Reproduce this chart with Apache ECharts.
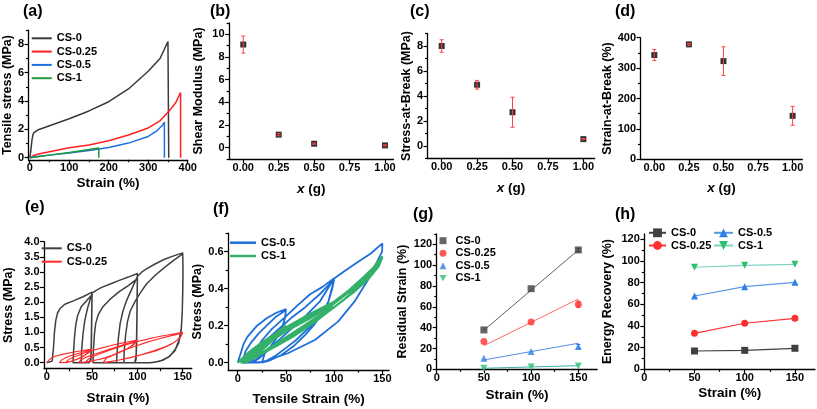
<!DOCTYPE html>
<html><head><meta charset="utf-8">
<script src="https://cdn.jsdelivr.net/npm/echarts@6/dist/echarts.min.js"></script>
<style>html,body{margin:0;padding:0;background:#fff}#c{width:817px;height:409px}</style>
</head><body><div id="c"></div><script>
// ---------- DATA ----------
// (a) tensile curves [strain %, stress MPa]
const tensileCS0 = [[0,0],[2,0.3],[4,0.8],[6,1.3],[8,1.6],[10,1.75],[14,1.88],[20,1.95],[50,2.25],[100,2.75],[150,3.3],[200,3.95],[250,4.85],[300,6.1],[330,7.0],[350,8.2],[352,0]];
const tensileCS025 = [[0,0],[10,0.15],[25,0.28],[50,0.42],[100,0.7],[150,0.9],[200,1.2],[250,1.6],[300,2.1],[330,2.6],[355,3.36],[370,3.9],[382,4.6],[382,0]];
const tensileCS05 = [[0,0],[25,0.1],[50,0.18],[100,0.33],[150,0.5],[200,0.72],[250,1.03],[300,1.5],[320,1.85],[335,2.25],[341,2.5],[341,0]];
const tensileCS1 = [[0,0],[25,0.09],[50,0.18],[100,0.36],[150,0.57],[175,0.68],[175,0]];
// (b)(c)(d)
const xContent = [0, 0.25, 0.5, 1.0];
const shearMod = [9.1, 1.15, 0.35, 0.2];
const shearErr = [0.75, 0.1, 0.05, 0.05];
const stressBreak = [8.0, 4.9, 2.7, 0.55];
const stressErr = [0.5, 0.35, 1.2, 0.05];
const strainBreak = [343, 378, 323, 143];
const strainErr = [18, 3, 47, 31];
// (e) cyclic CS-0 and CS-0.25
const cycCS0 = [[0,0],[6,0.05],[7.5,0.5],[8.5,1.0],[10,1.4],[12,1.65],[15,1.8],[20,1.93],[30,2.05],[40,2.18],[50,2.33],
 [49.7,1.8],[49.4,1.2],[49.1,0.6],[48.6,0.15],[47,0],[29,0],
 [29.5,0.3],[30.5,0.8],[32,1.25],[34,1.55],[38,1.85],[44,2.05],[50,2.25],
 [49.7,1.5],[49.3,0.6],[48.7,0.1],[47,0],[38,0],
 [38.5,0.4],[40,0.95],[42,1.4],[45,1.8],[50,2.3],[55,2.4],[60,2.48],[70,2.6],[80,2.72],[90,2.83],[100,2.95],
 [99.7,2.2],[99.4,1.4],[99,0.7],[98.5,0.2],[97,0],[51,0],
 [51.5,0.4],[52.5,0.9],[54,1.3],[57,1.6],[62,1.85],[70,2.1],[80,2.35],[90,2.55],[100,2.78],
 [99.6,1.6],[99.2,0.7],[98.5,0.1],[97,0],[77,0],
 [77.5,0.3],[79,0.8],[81,1.3],[84,1.7],[88,2.05],[94,2.45],[100,2.85],[105,3.0],[110,3.1],[120,3.27],[130,3.42],[140,3.53],[150,3.63],
 [150.3,3.1],[150,2.4],[149.5,1.7],[148.5,1.15],[146,0.75],[142,0.45],[136,0.22],[128,0.08],[119,0.01],[114,0],[85,0],
 [85.5,0.4],[87,0.9],[89,1.35],[92,1.7],[97,2.0],[103,2.3],[110,2.6],[120,2.9],[130,3.15],[140,3.38],[150,3.6],
 [150.3,3.0],[150,2.3],[149.4,1.6],[148.2,1.05],[145.5,0.65],[141,0.38],[134,0.18],[125,0.05],[114,0]];
const cycCS025 = [[0,0],[3,0.1],[6,0.17],[10,0.22],[20,0.29],[30,0.35],[40,0.4],[50,0.45],
 [47,0.36],[43,0.27],[38,0.18],[32,0.1],[26,0.04],[20,0.01],[14,0],
 [16,0.08],[20,0.15],[25,0.21],[30,0.26],[40,0.35],[50,0.43],
 [47,0.34],[42,0.24],[36,0.14],[30,0.07],[25,0.02],[21,0],
 [24,0.1],[30,0.19],[40,0.3],[50,0.4],[60,0.48],[70,0.56],[80,0.63],[90,0.69],[100,0.75],
 [97,0.65],[92,0.52],[85,0.4],[78,0.3],[70,0.2],[60,0.12],[50,0.06],[42,0.02],[35,0],
 [38,0.1],[45,0.2],[55,0.3],[65,0.4],[75,0.5],[85,0.6],[100,0.72],
 [96,0.6],[90,0.47],[82,0.36],[74,0.26],[65,0.17],[55,0.09],[47,0.03],[42,0],
 [46,0.12],[55,0.25],[70,0.42],[85,0.57],[100,0.7],[110,0.77],[120,0.84],[130,0.9],[140,0.95],[150,1.0],
 [148,0.88],[144,0.75],[138,0.62],[130,0.5],[120,0.39],[110,0.3],[100,0.22],[90,0.15],[80,0.09],[70,0.04],[62,0],
 [66,0.15],[80,0.35],[95,0.52],[110,0.67],[125,0.8],[140,0.91],[150,0.98],
 [147,0.82],[140,0.66],[130,0.52],[118,0.39],[105,0.27],[92,0.17],[80,0.09],[70,0.03],[63,0]];
// (f) cyclic CS-0.5 and CS-1
const cycCS05 = [[0,0],[3,0.05],[6,0.1],[10,0.14],[20,0.2],[30,0.24],[40,0.27],[50,0.29],
 [49.5,0.26],[48,0.22],[45,0.18],[40,0.13],[33,0.08],[25,0.04],[17,0.01],[12,0],[5,0],
 [8,0.06],[14,0.11],[22,0.16],[30,0.2],[40,0.25],[50,0.285],
 [49,0.24],[46,0.19],[41,0.14],[35,0.09],[28,0.05],[21,0.02],[15,0],
 [18,0.06],[25,0.12],[35,0.18],[50,0.25],[62,0.31],[75,0.37],[88,0.41],[100,0.456],
 [98.5,0.42],[96,0.37],[93,0.31],[88,0.27],[80,0.22],[70,0.17],[60,0.12],[50,0.08],[40,0.04],[30,0.01],[22,0],[12,0],
 [16,0.05],[25,0.1],[40,0.17],[55,0.24],[70,0.3],[85,0.37],[100,0.45],
 [98,0.4],[94,0.33],[88,0.27],[80,0.21],[70,0.15],[58,0.09],[45,0.04],[32,0.01],[25,0],
 [28,0.05],[40,0.11],[55,0.18],[70,0.25],[85,0.33],[100,0.455],[112,0.5],[125,0.546],[138,0.59],[150,0.645],
 [149.8,0.6],[145.5,0.555],[135,0.447],[121,0.33],[104,0.222],[80,0.123],[52,0.051],[35,0.02],[26,0.005],[24,0],[10,0]];
const cycCS1 = [[0,0],[10,0.05],[25,0.11],[40,0.16],[50,0.2],[48,0.18],[40,0.14],[30,0.09],[20,0.05],[10,0.02],[3,0],
 [12,0.05],[25,0.1],[40,0.155],[50,0.195],[47,0.17],[38,0.13],[28,0.085],[18,0.045],[8,0.01],[4,0],
 [15,0.06],[30,0.12],[50,0.19],[70,0.25],[85,0.29],[100,0.33],[97,0.3],[90,0.27],[75,0.22],[60,0.17],[45,0.12],[30,0.07],[15,0.025],[5,0],
 [20,0.07],[40,0.14],[60,0.2],[80,0.26],[100,0.325],[95,0.29],[80,0.24],[60,0.17],[40,0.1],[20,0.04],[6,0],
 [25,0.09],[50,0.18],[75,0.25],[100,0.33],[115,0.39],[130,0.46],[140,0.51],[150,0.575],[147,0.54],[140,0.49],[125,0.41],[110,0.34],[95,0.28],[75,0.21],[55,0.14],[35,0.08],[18,0.03],[7,0],
 [25,0.085],[50,0.17],[75,0.24],[100,0.32],[120,0.4],[135,0.48],[150,0.57],[146,0.52],[135,0.45],[120,0.38],[100,0.3],[80,0.22],[60,0.15],[40,0.09],[20,0.035],[8,0]];
// (g) residual strain
const strainLevels = [50, 100, 150];
const residual0 = [37.8, 77.4, 114.6];
const residual025 = [26.6, 45.4, 62.4];
const residual05 = [10.6, 17.0, 21.8];
const residual1 = [1.0, 2.2, 3.2];
const residualErr0 = [0, 0, 1.5];
const residualErr025 = [0, 0, 3];
const residualErr05 = [0, 0, 2];
const fitX = [50, 150];
const fit0 = [37.5, 114.5];
const fit025 = [22.7, 67.5];
const fit05 = [9.0, 25.0];
const fit1 = [1.0, 3.5];
// (h) energy recovery
const energy0 = [16.9, 17.5, 19.4];
const energy025 = [33.2, 42.5, 47.1];
const energy05 = [67.7, 76.3, 80.3];
const energy1 = [94.2, 96.0, 96.9];
const energyErr0 = [0, 0, 2];
// tick values
const ticksA_x = [0,100,200,300,400], ticksA_xm = [50,150,250,350];
const ticksA_y = [0,2,4,6,8], ticksA_ym = [1,3,5,7,9];
const ticksX_g = [0,0.25,0.5,0.75,1.0];
const ticksB_y = [0,2,4,6,8,10], ticksB_ym = [-1,1,3,5,7,9,11];
const ticksC_y = [0,2,4,6,8], ticksC_ym = [-1,1,3,5,7,9];
const ticksD_y = [0,100,200,300,400], ticksD_ym = [50,150,250,350];
const ticksE_x = [0,50,100,150], ticksE_xm = [25,75,125];
const ticksE_y = [0,0.5,1,1.5,2,2.5,3,3.5,4];
const ticksF_y = [0,0.2,0.4,0.6], ticksF_ym = [0.1,0.3,0.5,0.7];
const ticksG_y = [0,20,40,60,80,100,120], ticksG_ym = [10,30,50,70,90,110,130];
const ticksH_ym = [10,30,50,70,90,110];

// ---------- BUILD ----------
const FONT = '"Liberation Sans", Arial, sans-serif';
const grids = [], xAxis = [], yAxis = [], series = [], legend = [], graphic = [];
const nameStyle = (fs) => ({color:'#000', fontWeight:'bold', fontSize:fs, fontFamily:FONT,
  rich:{i:{fontStyle:'italic', fontWeight:'bold', fontSize:fs, fontFamily:FONT, color:'#000'}}});
function addPanel(p) {
  const gi = grids.length;
  grids.push({left:p.left, top:p.top, width:p.width, height:p.height});
  const lineSt = {color:'#000', width:1.3};
  const tickSt = {color:'#000', width:1.2};
  const lab = {color:'#000', fontWeight:'bold', fontSize:11, fontFamily:FONT};
  xAxis.push({type:'value', gridIndex:gi, min:p.x[0], max:p.x[1], position:'bottom',
    axisLine:{show:true, onZero:false, lineStyle:lineSt},
    axisTick:{show:true, length:4, customValues:p.xMajor, lineStyle:tickSt},
    axisLabel:Object.assign({customValues:p.xMajor, formatter:p.xFmt, margin:3}, lab),
    splitLine:{show:false}, name:p.xName, nameLocation:'middle', nameGap:p.xGap, nameTextStyle:nameStyle(13.5)});
  xAxis.push({type:'value', gridIndex:gi, min:p.x[0], max:p.x[1], position:'bottom',
    axisLine:{show:false, onZero:false}, axisLabel:{show:false}, splitLine:{show:false},
    axisTick:{show:p.xMinor.length>0, length:2.5, customValues:p.xMinor.length?p.xMinor:[p.x[0]], lineStyle:tickSt}});
  yAxis.push({type:'value', gridIndex:gi, min:p.y[0], max:p.y[1], position:'left',
    axisLine:{show:true, onZero:false, lineStyle:lineSt},
    axisTick:{show:true, length:4, customValues:p.yMajor, lineStyle:tickSt},
    axisLabel:Object.assign({customValues:p.yMajor, formatter:p.yFmt, margin:4.5}, lab),
    splitLine:{show:false}, name:p.yName, nameLocation:'middle', nameGap:p.yGap, nameTextStyle:nameStyle(12.5)});
  yAxis.push({type:'value', gridIndex:gi, min:p.y[0], max:p.y[1], position:'left',
    axisLine:{show:false, onZero:false}, axisLabel:{show:false}, splitLine:{show:false},
    axisTick:{show:p.yMinor.length>0, length:2.5, customValues:p.yMinor.length?p.yMinor:[p.y[0]], lineStyle:tickSt}});
  return 2*gi;
}
const intF = v => String(Math.round(v));
const f1 = v => v.toFixed(1);
const f2 = v => v.toFixed(2);
function errSeries(ai, xs, ys, es, color, cap) {
  const d = [];
  xs.forEach((x,i)=>{ if (es[i] > 0) d.push([x, ys[i]-es[i], ys[i]+es[i]]); });
  return {type:'custom', xAxisIndex:ai, yAxisIndex:ai, z:5, silent:true, data:d, encode:{x:0, y:[1,2]},
    renderItem:(params, api)=>{
      const x = api.value(0);
      const lo = api.coord([x, api.value(1)]), hi = api.coord([x, api.value(2)]);
      const st = {stroke:color, lineWidth:1};
      return {type:'group', children:[
        {type:'line', shape:{x1:lo[0],y1:lo[1],x2:hi[0],y2:hi[1]}, style:st},
        {type:'line', shape:{x1:lo[0]-cap,y1:lo[1],x2:lo[0]+cap,y2:lo[1]}, style:st},
        {type:'line', shape:{x1:hi[0]-cap,y1:hi[1],x2:hi[0]+cap,y2:hi[1]}, style:st}]};
    }};
}
const lineS = (name, ai, data, color, w) => ({name, type:'line', xAxisIndex:ai, yAxisIndex:ai, data, symbol:'none',
  lineStyle:{color, width:w}, itemStyle:{color}, z:2});
const legText = {color:'#000', fontWeight:'bold', fontSize:11, fontFamily:FONT, lineHeight:12};
const legFmt = n => n.split('|')[1];

// (a)
let ai = addPanel({left:28.1, top:30.2, width:159.6, height:129.6, x:[-3,400], y:[-0.15,9],
  xMajor:ticksA_x, xMinor:ticksA_xm, yMajor:ticksA_y, yMinor:ticksA_ym, xFmt:intF, yFmt:intF,
  xName:'Strain (%)', xGap:16, yName:'Tensile stress (MPa)', yGap:13});
series.push(lineS('a|CS-0', ai, tensileCS0, '#3a3a3a', 1.5));
series.push(lineS('a|CS-0.25', ai, tensileCS025, '#ff2020', 1.5));
series.push(lineS('a|CS-0.5', ai, tensileCS05, '#1f6fe0', 1.5));
series.push(lineS('a|CS-1', ai, tensileCS1, '#1f9a3a', 1.5));
legend.push({data:['a|CS-0','a|CS-0.25','a|CS-0.5','a|CS-1'], left:31.7, top:32.3, orient:'vertical', padding:0,
  icon:'rect', itemWidth:20, itemHeight:2, itemGap:1.3, textStyle:legText, formatter:legFmt, selectedMode:false});

// (b)
ai = addPanel({left:229.1, top:23, width:164.4, height:136, x:[-0.1,1.06], y:[-1,11],
  xMajor:ticksX_g, xMinor:[], yMajor:ticksB_y, yMinor:ticksB_ym, xFmt:f2, yFmt:intF,
  xName:'{i|x} (g)', xGap:23, yName:'Shear Modulus (MPa)', yGap:24});
series.push({type:'scatter', xAxisIndex:ai, yAxisIndex:ai, symbol:'rect', symbolSize:6, itemStyle:{color:'#000'},
  data:xContent.map((x,i)=>[x, shearMod[i]]), z:2});
series.push(errSeries(ai, xContent, shearMod, shearErr, '#ff4040', 2));

// (c)
ai = addPanel({left:427.5, top:33.5, width:167.2, height:125, x:[-0.1,1.08], y:[-1,9],
  xMajor:ticksX_g, xMinor:[], yMajor:ticksC_y, yMinor:ticksC_ym, xFmt:f2, yFmt:intF,
  xName:'{i|x} (g)', xGap:22.5, yName:'Stress-at-Break (MPa)', yGap:13.5});
series.push({type:'scatter', xAxisIndex:ai, yAxisIndex:ai, symbol:'rect', symbolSize:6, itemStyle:{color:'#000'},
  data:xContent.map((x,i)=>[x, stressBreak[i]]), z:2});
series.push(errSeries(ai, xContent, stressBreak, stressErr, '#ff4040', 2));

// (d)
ai = addPanel({left:640.5, top:37.7, width:161.8, height:121.6, x:[-0.1,1.07], y:[0,400],
  xMajor:ticksX_g, xMinor:[], yMajor:ticksD_y, yMinor:ticksD_ym, xFmt:f2, yFmt:intF,
  xName:'{i|x} (g)', xGap:22, yName:'Strain-at-Break (%)', yGap:24});
series.push({type:'scatter', xAxisIndex:ai, yAxisIndex:ai, symbol:'rect', symbolSize:6, itemStyle:{color:'#000'},
  data:xContent.map((x,i)=>[x, strainBreak[i]]), z:2});
series.push(errSeries(ai, xContent, strainBreak, strainErr, '#ff4040', 2));

// (e)
ai = addPanel({left:44, top:241.7, width:147.8, height:127, x:[-3,160], y:[-0.2,4],
  xMajor:ticksE_x, xMinor:ticksE_xm, yMajor:ticksE_y, yMinor:[], xFmt:intF, yFmt:f1,
  xName:'Strain (%)', xGap:23, yName:'Stress (MPa)', yGap:28.5});
series.push(lineS('e|CS-0', ai, cycCS0, '#404040', 1.5));
series.push(lineS('e|CS-0.25', ai, cycCS025, '#ff2a2a', 1.1));
legend.push({data:['e|CS-0','e|CS-0.25'], left:41.7, top:242.3, orient:'vertical', padding:0,
  icon:'rect', itemWidth:20, itemHeight:2, itemGap:1.4, textStyle:legText, formatter:legFmt, selectedMode:false});

// (f)
ai = addPanel({left:228.1, top:233.2, width:161, height:136.9, x:[-10,157], y:[-0.04,0.7],
  xMajor:ticksE_x, xMinor:ticksE_xm, yMajor:ticksF_y, yMinor:ticksF_ym, xFmt:intF, yFmt:f1,
  xName:'Tensile Strain (%)', xGap:22.5, yName:'Stress (MPa)', yGap:22});
series.push(lineS('f|CS-0.5', ai, cycCS05, '#1f6fd8', 1.8));
series.push(lineS('f|CS-1', ai, cycCS1, '#33b06a', 2.2));
legend.push({data:['f|CS-0.5','f|CS-1'], left:230, top:236.7, orient:'vertical', padding:0,
  icon:'rect', itemWidth:26, itemHeight:2.5, itemGap:1.3, textStyle:legText, formatter:legFmt, selectedMode:false});

// (g)
const invTri = 'path://M0,0 L10,0 L5,9 Z';
ai = addPanel({left:436.7, top:233.9, width:160.5, height:135.4, x:[0,170], y:[0,130],
  xMajor:ticksE_x, xMinor:ticksE_xm, yMajor:ticksG_y, yMinor:ticksG_ym, xFmt:intF, yFmt:intF,
  xName:'Strain (%)', xGap:18.5, yName:'Residual Strain (%)', yGap:27.5});
const gDefs = [['CS-0', residual0, fit0, 'rect', '#404040', '#606060', residualErr0],
  ['CS-0.25', residual025, fit025, 'circle', '#ff3030', '#ff6a6a', residualErr025],
  ['CS-0.5', residual05, fit05, 'triangle', '#2f7fe8', '#4f8fe0', residualErr05],
  ['CS-1', residual1, fit1, invTri, '#2cc070', '#3fb0a0', [0,0,0]]];
gDefs.forEach(d=>{
  series.push({name:'g|'+d[0], type:'line', xAxisIndex:ai, yAxisIndex:ai, data:fitX.map((x,i)=>[x, d[2][i]]),
    symbol:'none', lineStyle:{color:d[5], width:1}, itemStyle:{color:d[5]}, z:1});
});
gDefs.forEach(d=>{
  series.push({name:'gs|'+d[0], type:'scatter', xAxisIndex:ai, yAxisIndex:ai, symbol:d[3], symbolSize:7,
    itemStyle:{color:d[4]}, data:strainLevels.map((x,i)=>[x, d[1][i]]), z:3});
  series.push(errSeries(ai, strainLevels, d[1], d[6], d[4], 2));
});
legend.push({data:gDefs.map(d=>'gs|'+d[0]), left:439.5, top:234.7, orient:'vertical', padding:0,
  itemWidth:7, itemHeight:7, itemGap:0.5, textStyle:Object.assign({padding:[0,0,0,4]}, legText), formatter:legFmt, selectedMode:false});

// (h)
ai = addPanel({left:644.3, top:233.9, width:170.7, height:135.4, x:[0,170], y:[0,125],
  xMajor:ticksE_x, xMinor:ticksE_xm, yMajor:ticksG_y, yMinor:ticksH_ym, xFmt:intF, yFmt:intF,
  xName:'Strain (%)', xGap:16.7, yName:'Energy Recovery (%)', yGap:30});
const hDefs = [['CS-0', energy0, 'rect', '#404040', '#404040', energyErr0],
  ['CS-0.25', energy025, 'circle', '#ff3030', '#ff3030', [0,0,0]],
  ['CS-0.5', energy05, 'triangle', '#2f7fe8', '#5a96e6', [0,0,0]],
  ['CS-1', energy1, invTri, '#2cc070', '#7fd3c3', [0,0,0]]];
hDefs.forEach(d=>{
  series.push({name:'h|'+d[0], type:'line', xAxisIndex:ai, yAxisIndex:ai, symbol:d[2], symbolSize:7,
    itemStyle:{color:d[3]}, lineStyle:{color:d[4], width:1.2}, data:strainLevels.map((x,i)=>[x, d[1][i]]), z:3});
  series.push(errSeries(ai, strainLevels, d[1], d[5], d[3], 2));
});
legend.push({data:['h|CS-0','h|CS-0.25'], left:648, top:226.8, orient:'vertical', padding:0,
  itemWidth:17, itemHeight:11, itemGap:0.7, textStyle:legText, formatter:legFmt, selectedMode:false});
legend.push({data:['h|CS-0.5','h|CS-1'], left:713, top:226.8, orient:'vertical', padding:0,
  itemWidth:19, itemHeight:11, itemGap:0.7, textStyle:legText, formatter:legFmt, selectedMode:false});

// panel letters
const panelLetters = ['(a)','(b)','(c)','(d)','(e)','(f)','(g)','(h)'];
const letterPos = [[23,12],[210,12],[410,12],[615,12],[25,208],[213,210],[413,215],[615,215]];
panelLetters.forEach((t,i)=>graphic.push({type:'text', x:letterPos[i][0], y:letterPos[i][1], z:10,
  style:{text:t, fill:'#000', font:'bold 16px ' + FONT, verticalAlign:'middle', align:'left'}}));

const chart = echarts.init(document.getElementById('c'), null, {renderer:'canvas'});
chart.setOption({animation:false, backgroundColor:'#fff', textStyle:{fontFamily:FONT},
  grid:grids, xAxis, yAxis, series, legend, graphic});
</script></body></html>
